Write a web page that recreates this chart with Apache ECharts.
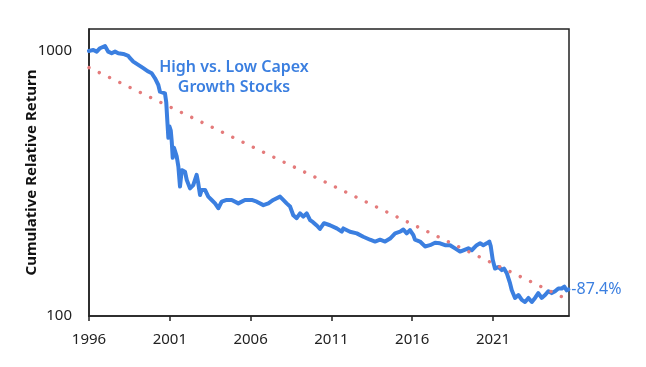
<!DOCTYPE html>
<html>
<head>
<meta charset="utf-8">
<script src="https://cdn.jsdelivr.net/npm/echarts@6/dist/echarts.min.js"></script>
<style>
html,body{margin:0;padding:0;background:#fff;}
#chart{width:646px;height:367px;}
</style>
</head>
<body>
<div id="chart"></div>
<script>
// ---- data ----
const years = [1996.0,1996.27,1996.48,1996.68,1996.99,1997.19,1997.40,1997.61,1997.81,1998.12,1998.43,1998.54,1998.74,1999.05,1999.36,1999.67,1999.88,2000.08,2000.29,2000.39,2000.50,2000.70,2000.78,2000.85,2000.91,2000.97,2001.06,2001.12,2001.18,2001.26,2001.38,2001.43,2001.53,2001.63,2001.74,2001.84,2001.94,2002.05,2002.25,2002.45,2002.66,2002.76,2002.87,2002.97,2003.18,2003.38,2003.59,2003.80,2004.00,2004.21,2004.52,2004.83,2005.24,2005.65,2006.07,2006.38,2006.79,2007.10,2007.40,2007.82,2008.02,2008.23,2008.44,2008.64,2008.85,2009.06,2009.26,2009.47,2009.68,2009.86,2010.11,2010.29,2010.54,2010.91,2011.33,2011.64,2011.74,2012.15,2012.57,2012.97,2013.39,2013.70,2014.01,2014.32,2014.63,2014.94,2015.25,2015.45,2015.66,2015.86,2016.07,2016.17,2016.48,2016.79,2016.90,2017.10,2017.41,2017.72,2018.03,2018.34,2018.65,2018.96,2019.16,2019.47,2019.68,2019.99,2020.20,2020.40,2020.61,2020.77,2020.86,2020.98,2021.12,2021.33,2021.54,2021.68,2021.85,2022.05,2022.16,2022.36,2022.57,2022.78,2022.98,2023.19,2023.40,2023.60,2023.80,2024.01,2024.22,2024.42,2024.63,2024.84,2025.04,2025.25,2025.41,2025.56,2025.66];
const returns = [1000,1009,994,1024,1044,994,980,994,980,974,958,939,911,886,861,836,824,789,744,702,712,692,640,540,470,520,500,455,395,431,431,399,366,308,355,361,350,326,303,312,341,317,286,299,299,282,274,266,255,270,274,274,266,274,274,270,262,266,274,282,274,266,259,240,234,244,237,244,230,226,219,213,224,220,214,208,214,208,205,199,194,191,194,191,196,205,208,212,205,211,202,194,191,183,180,185,189,188,185,185,180,175,177,180,177,185,188,185,188,191,183,163,151,153,149,151,145,133,125,117,120,115,113,117,113,117,122,117,120,124,122,124,127,127,129,125,126];
const trendYears = [1996, 2025.66];
const trendValues = [865, 115];
const xTickLabels = [1996, 2001, 2006, 2011, 2016, 2021];
const yTickLabels = [100, 1000];
const titleText = 'High vs. Low Capex\nGrowth Stocks';
const yAxisTitle = 'Cumulative Relative Return';

const BLUE = '#3b7fe0';
const RED = '#e47b7b';
const FONT = '"Noto Sans", sans-serif';
const endPct = ((returns[returns.length-1] / returns[0] - 1) * 100).toFixed(1) + '%';

const chart = echarts.init(document.getElementById('chart'), null, {renderer:'canvas'});
chart.setOption({
  animation: false,
  backgroundColor: '#fff',
  textStyle: {fontFamily: FONT},
  grid: {left: 89, right: 77, top: 29, bottom: 51, show: true, borderColor: '#222', borderWidth: 1.5},
  xAxis: {
    type: 'value', min: 1996, max: 2025.7,
    splitLine: {show: false},
    axisLine: {show: true, onZero: false, lineStyle: {color: '#222', width: 1.5}},
    axisTick: {show: true, length: 5, lineStyle: {color: '#222', width: 1.5}, customValues: xTickLabels},
    axisLabel: {customValues: xTickLabels, color: '#222', fontSize: 15, fontFamily: FONT, margin: 16, formatter: v => String(v)}
  },
  yAxis: {
    type: 'log', logBase: 10, min: 100, max: 1210,
    splitLine: {show: false},
    axisLine: {show: true, lineStyle: {color: '#222', width: 1.5}},
    axisTick: {show: false},
    axisLabel: {customValues: yTickLabels, color: '#222', fontSize: 15, fontFamily: FONT, margin: 17, formatter: v => String(Math.round(v))},
    name: yAxisTitle, nameLocation: 'middle', nameGap: 50, nameRotate: 90, nameMoveOverlap: false,
    nameTextStyle: {fontSize: 15, fontWeight: 'bold', color: '#111', fontFamily: FONT}
  },
  graphic: [{
    type: 'text', x: 234, y: 77,
    style: {text: titleText, align: 'center', verticalAlign: 'middle', fill: BLUE, font: '600 16px ' + FONT, lineHeight: 20}
  }],
  series: [
    {
      type: 'line', data: years.map((y, i) => [y, returns[i]]),
      showSymbol: false, symbol: 'none',
      lineStyle: {color: BLUE, width: 4, join: 'round', cap: 'round'},
      endLabel: {show: true, formatter: () => endPct, color: BLUE, fontSize: 16, fontFamily: FONT, distance: 3},
      z: 2
    },
    {
      type: 'line', data: trendYears.map((y, i) => [y, trendValues[i]]),
      showSymbol: false, symbol: 'none',
      lineStyle: {color: RED, width: 3.4, type: [0.01, 11.4], cap: 'round'},
      z: 3
    }
  ]
});
</script>
</body>
</html>
